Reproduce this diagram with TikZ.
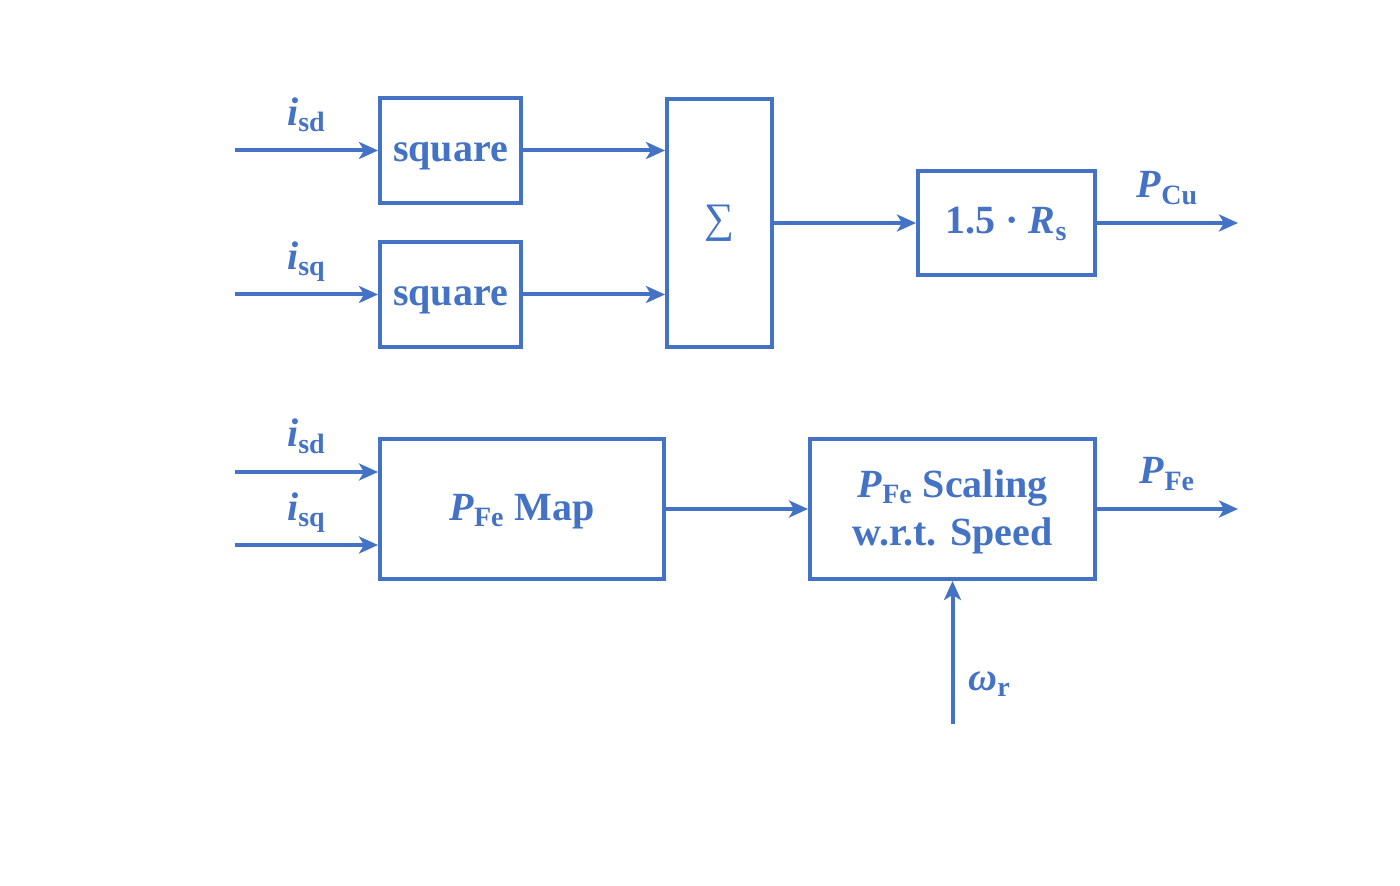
\documentclass[tikz,border=0pt]{standalone}
\usepackage{fontspec}
\setmainfont{Liberation Serif}
\usepackage{tikz}
\usetikzlibrary{arrows.meta, calc}
\definecolor{blockblue}{RGB}{68,114,196}
\tikzstyle{arrow} = [blockblue, line width=2pt, -{Stealth[length=9.5pt,width=8.5pt,inset=2.5pt]}]

\begin{document}
\begin{tikzpicture}[x=0.5pt, y=-0.5pt]
   \tikzset{block/.style={draw=blockblue, line width=2pt, rectangle, align=center, text=blockblue,
      font=\fontsize{20}{24}\selectfont\bfseries, inner sep=0pt, text height=14pt, text depth=3pt},
   lbl/.style={text=blockblue, font=\fontsize{20}{24}\selectfont\bfseries, inner sep=2pt, text depth=0pt}
   }
 \useasboundingbox (0,0) rectangle (1400,886);

 % copper losses
 \node [block, minimum width=70.5pt, minimum height=52.5pt] (sqd) at (450.5,150.5) {square};
 \node [block, minimum width=70.5pt, minimum height=52.5pt] (sqq) at (450.5,294.5) {square};
 \node [block, minimum width=52.5pt, minimum height=124pt, font=\fontsize{21}{24}\selectfont,
        text height=, text depth=] (sum) at (719.5,223) {∑};
 \node [block, minimum width=88.5pt, minimum height=52pt] (gain) at (1006.5,223) {1.5 · \textit{R}\textsubscript{s}};

 \coordinate (isd) at (235,150.5);
 \coordinate (isq) at (235,294.5);
 \coordinate (pcu) at (1238,223);

 \draw [arrow] (isd) -- node[lbl, above=9.5pt] {\textit{i}\textsubscript{sd}} (sqd.west);
 \draw [arrow] (isq) -- node[lbl, above=9.5pt] {\textit{i}\textsubscript{sq}} (sqq.west);
 \draw [arrow] (sqd.east) -- (sqd.east -| sum.west);
 \draw [arrow] (sqq.east) -- (sqq.east -| sum.west);
 \draw [arrow] (sum.east) -- (gain.west);
 \draw [arrow] (gain.east) -- node[lbl, above=9.5pt] {\textit{P}\textsubscript{Cu}} (pcu);

 % iron losses
 \node [block, minimum width=142pt, minimum height=70pt] (map) at (522,509) {\textit{P}\textsubscript{Fe} Map};
 \node [block, minimum width=142.5pt, minimum height=70pt, text height=39.5pt] (scale) at (952.5,509) {\textit{P}\textsubscript{Fe} Scaling\\w.r.t. Speed};

 \coordinate (isd2) at (235,472);
 \coordinate (isq2) at (235,545);
 \coordinate (pfe) at (1238,509);
 \coordinate (wr) at (952.5,724);

 \draw [arrow] (isd2) -- node[lbl, above=9.5pt] {\textit{i}\textsubscript{sd}} (isd2 -| map.west);
 \draw [arrow] (isq2) -- node[lbl, above=9.5pt] {\textit{i}\textsubscript{sq}} (isq2 -| map.west);
 \draw [arrow] (map.east) -- (scale.west);
 \draw [arrow] (scale.east) -- node[lbl, above=9.5pt] {\textit{P}\textsubscript{Fe}} (pfe);
 \draw [arrow] (wr) -- node[lbl, right, pos=0.3, xshift=5pt] {\textit{ω}\textsubscript{r}} (scale.south);
\end{tikzpicture}
\end{document}
